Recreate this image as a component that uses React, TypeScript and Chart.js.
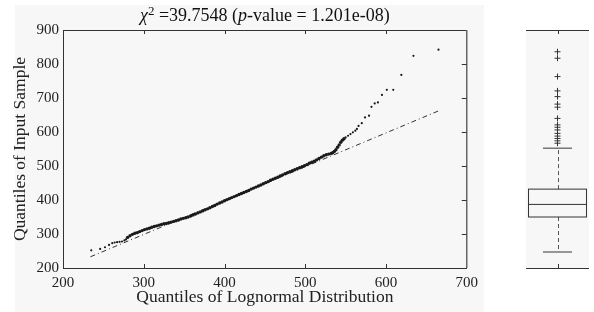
import React, { useEffect, useRef } from 'react';
import { Chart, registerables } from 'chart.js';

Chart.register(...registerables);

const FONT = '"Liberation Serif", "Times New Roman", serif';

const xTicks = [200, 300, 400, 500, 600, 700];
const yTicks = [200, 300, 400, 500, 600, 700, 800, 900];

// Dense central part of the Q-Q scatter (theoretical lognormal quantile, sample quantile)
const denseX = [280, 283, 286, 289, 292, 295, 298, 301, 304, 307, 310, 313, 316, 319, 322, 325, 328, 331, 334, 337, 340, 343, 346, 349, 352, 355, 358, 361, 364, 367, 370, 373, 376, 379, 382, 385, 388, 391, 394, 397, 400, 403, 406, 409, 412, 415, 418, 421, 424, 427, 430, 433, 436, 439, 442, 445, 448, 451, 454, 457, 460, 463, 466, 469, 472, 475, 478, 481, 484, 487, 490, 493, 496, 499, 502, 505, 508, 511, 514, 517, 520, 523, 526, 529, 532, 534, 536, 538, 540, 542, 544, 546, 548];
const denseY = [290, 295, 299, 302, 304, 307, 310, 313, 315, 317, 320, 322, 324, 326, 328, 330, 331, 333, 335, 337, 339, 341, 344, 346, 348, 350, 353, 356, 359, 362, 365, 368, 371, 374, 377, 381, 384, 388, 391, 394, 398, 401, 404, 407, 410, 413, 416, 419, 422, 425, 428, 432, 435, 438, 441, 444, 448, 451, 454, 458, 461, 464, 467, 471, 474, 477, 480, 483, 486, 489, 492, 495, 498, 501, 504, 508, 511, 514, 518, 522, 526, 530, 533, 535, 537, 539, 543, 548, 555, 562, 570, 576, 580];

// Sparse tails of the scatter
const tailX = [235, 246, 252, 257, 261, 264, 267, 270, 273, 276, 278, 550, 553, 556, 559, 562, 564, 566, 570, 574, 579, 582, 586, 590, 595, 601, 609, 619, 634, 665];
const tailY = [252, 256, 261, 268, 273, 275, 276, 277, 278, 281, 284, 584, 589, 594, 599, 604, 609, 618, 626, 643, 648, 674, 684, 687, 709, 724, 724, 768, 824, 842];

// Reference (fit) line end points
const refX = [234, 665];
const refY = [233, 662];

// Box plot of the input sample
const whiskerLow = 247;
const q1 = 350;
const median = 387;
const q3 = 432;
const whiskerHigh = 552;
const outliers = [567, 574, 581, 588, 596, 606, 614, 621, 640, 673, 682, 704, 721, 763, 817, 836];

const mainPlugin = {
  id: 'mainDeco',
  beforeDraw(chart: any) {
    const ctx = chart.ctx;
    ctx.save();
    ctx.fillStyle = '#f7f7f7';
    ctx.fillRect(15, 5, chart.width - 15, chart.height - 5);
    ctx.restore();
  },
  afterDraw(chart: any) {
    const ctx = chart.ctx;
    const { left, right, top, bottom } = chart.chartArea;
    const xs = chart.scales.x;
    const ys = chart.scales.y;
    ctx.save();
    // top frame
    ctx.strokeStyle = '#333';
    ctx.lineWidth = 1;
    ctx.beginPath();
    ctx.moveTo(left, top + 0.5);
    ctx.lineTo(right, top + 0.5);
    ctx.stroke();
    // right frame
    ctx.strokeStyle = '#666';
    ctx.lineWidth = 1.5;
    ctx.beginPath();
    ctx.moveTo(right, top);
    ctx.lineTo(right, bottom);
    ctx.stroke();
    // inward ticks
    ctx.strokeStyle = '#333';
    ctx.lineWidth = 1;
    xTicks.slice(1, -1).forEach((v) => {
      const px = Math.round(xs.getPixelForValue(v)) + 0.5;
      ctx.beginPath();
      ctx.moveTo(px, bottom);
      ctx.lineTo(px, bottom - 4);
      ctx.moveTo(px, top);
      ctx.lineTo(px, top + 4);
      ctx.stroke();
    });
    yTicks.slice(1, -1).forEach((v) => {
      const py = Math.round(ys.getPixelForValue(v)) + 0.5;
      ctx.beginPath();
      ctx.moveTo(right, py);
      ctx.lineTo(right - 5, py);
      ctx.stroke();
    });
    // title with rich text
    const size = 18;
    const parts = [
      { t: '\u03c7', f: `italic ${size}px ${FONT}`, dy: 0 },
      { t: '2', f: `${Math.round(size * 0.7)}px ${FONT}`, dy: -6 },
      { t: ' =39.7548 (', f: `${size}px ${FONT}`, dy: 0 },
      { t: 'p', f: `italic ${size}px ${FONT}`, dy: 0 },
      { t: '-value = 1.201e-08)', f: `${size}px ${FONT}`, dy: 0 },
    ];
    let total = 0;
    parts.forEach((p) => {
      ctx.font = p.f;
      total += ctx.measureText(p.t).width;
    });
    let x = (left + right) / 2 - total / 2;
    const baseY = 21;
    ctx.fillStyle = '#111';
    ctx.textBaseline = 'alphabetic';
    ctx.textAlign = 'left';
    parts.forEach((p) => {
      ctx.font = p.f;
      ctx.fillText(p.t, x, baseY + p.dy);
      x += ctx.measureText(p.t).width;
    });
    ctx.restore();
  },
};

const boxPlugin = {
  id: 'boxDeco',
  beforeDatasetsDraw(chart: any) {
    const ctx = chart.ctx;
    const { left, right, top, bottom } = chart.chartArea;
    const xs = chart.scales.x;
    const ys = chart.scales.y;
    ctx.save();
    ctx.fillStyle = '#f7f7f7';
    ctx.fillRect(left, top, right - left, bottom - top);
    const cx = Math.round(xs.getPixelForValue(0.5)) + 0.5;
    const bx0 = xs.getPixelForValue(0.04);
    const bx1 = xs.getPixelForValue(0.96);
    const cx0 = xs.getPixelForValue(0.27);
    const cx1 = xs.getPixelForValue(0.73);
    const yQ1 = ys.getPixelForValue(q1);
    const yQ3 = ys.getPixelForValue(q3);
    const yMed = ys.getPixelForValue(median);
    const yLo = ys.getPixelForValue(whiskerLow);
    const yHi = ys.getPixelForValue(whiskerHigh);
    // dashed whiskers
    ctx.strokeStyle = '#555';
    ctx.lineWidth = 1;
    ctx.setLineDash([4, 3]);
    ctx.beginPath();
    ctx.moveTo(cx, yQ3);
    ctx.lineTo(cx, yHi);
    ctx.moveTo(cx, yQ1);
    ctx.lineTo(cx, yLo);
    ctx.stroke();
    ctx.setLineDash([]);
    // caps
    ctx.strokeStyle = '#777';
    ctx.lineWidth = 1.5;
    ctx.beginPath();
    ctx.moveTo(cx0, yHi);
    ctx.lineTo(cx1, yHi);
    ctx.moveTo(cx0, yLo);
    ctx.lineTo(cx1, yLo);
    ctx.stroke();
    // box
    ctx.strokeStyle = '#333';
    ctx.lineWidth = 1;
    ctx.strokeRect(bx0, yQ3, bx1 - bx0, yQ1 - yQ3);
    ctx.beginPath();
    ctx.moveTo(bx0, yMed);
    ctx.lineTo(bx1, yMed);
    ctx.stroke();
    ctx.restore();
  },
  afterDraw(chart: any) {
    const ctx = chart.ctx;
    const { left, right, top, bottom } = chart.chartArea;
    const xs = chart.scales.x;
    const cx = Math.round(xs.getPixelForValue(0.5)) + 0.5;
    ctx.save();
    ctx.strokeStyle = '#333';
    ctx.lineWidth = 1;
    ctx.beginPath();
    ctx.moveTo(left, top + 0.5);
    ctx.lineTo(right, top + 0.5);
    ctx.moveTo(left, bottom + 0.5);
    ctx.lineTo(right, bottom + 0.5);
    ctx.moveTo(cx, top);
    ctx.lineTo(cx, top + 4);
    ctx.moveTo(cx, bottom);
    ctx.lineTo(cx, bottom - 4);
    ctx.stroke();
    ctx.restore();
  },
};

export default function App() {
  const mainRef = useRef<HTMLCanvasElement>(null);
  const boxRef = useRef<HTMLCanvasElement>(null);

  useEffect(() => {
    const tickFont = { family: FONT, size: 15 };
    const titleFont = { family: FONT, size: 17.5 };
    const main = new Chart(mainRef.current as HTMLCanvasElement, {
      type: 'scatter',
      data: {
        datasets: [
          {
            data: denseX.map((x, i) => ({ x, y: denseY[i] })),
            pointRadius: 1.7,
            pointBackgroundColor: '#1a1a1a',
            pointBorderWidth: 0,
          },
          {
            data: tailX.map((x, i) => ({ x, y: tailY[i] })),
            pointRadius: 1.1,
            pointBackgroundColor: '#1a1a1a',
            pointBorderWidth: 0,
          },
          {
            type: 'line',
            data: refX.map((x, i) => ({ x, y: refY[i] })),
            borderColor: '#333',
            borderWidth: 1,
            borderDash: [5, 3, 1, 3],
            pointRadius: 0,
            fill: false,
          } as any,
        ],
      },
      options: {
        animation: false,
        responsive: false,
        layout: { padding: { left: 0, right: 15, top: 30, bottom: 0 } },
        plugins: { legend: { display: false }, tooltip: { enabled: false } },
        scales: {
          x: {
            type: 'linear',
            min: 200,
            max: 700,
            afterBuildTicks: (s: any) => {
              s.ticks = xTicks.map((v) => ({ value: v }));
            },
            afterFit: (s: any) => {
              s.height = 44;
            },
            grid: { display: false, drawTicks: false },
            border: { display: true, color: '#333', width: 1 },
            ticks: { padding: 6, color: '#222', font: tickFont, maxRotation: 0, autoSkip: false },
            title: {
              display: true,
              text: 'Quantiles of Lognormal Distribution',
              color: '#222',
              font: titleFont,
              padding: { top: 0, bottom: 4 },
            },
          },
          y: {
            type: 'linear',
            min: 200,
            max: 900,
            afterBuildTicks: (s: any) => {
              s.ticks = yTicks.map((v) => ({ value: v }));
            },
            afterFit: (s: any) => {
              s.width = 63;
            },
            grid: { display: false, drawTicks: false },
            border: { display: true, color: '#333', width: 1 },
            ticks: { padding: 4, color: '#222', font: tickFont, autoSkip: false },
            title: {
              display: true,
              text: 'Quantiles of Input Sample',
              color: '#222',
              font: titleFont,
              padding: { top: 10, bottom: 0 },
            },
          },
        },
      },
      plugins: [mainPlugin],
    });

    const box = new Chart(boxRef.current as HTMLCanvasElement, {
      type: 'scatter',
      data: {
        datasets: [
          {
            data: outliers.map((v) => ({ x: 0.5, y: v })),
            pointStyle: 'cross',
            pointRadius: 3,
            pointBorderColor: '#333',
            pointBorderWidth: 1,
          },
        ],
      },
      options: {
        animation: false,
        responsive: false,
        layout: { padding: { left: 42, right: 2, top: 30, bottom: 44 } },
        plugins: { legend: { display: false }, tooltip: { enabled: false } },
        scales: {
          x: { type: 'linear', min: 0, max: 1, display: false },
          y: { type: 'linear', min: 200, max: 900, display: false },
        },
      },
      plugins: [boxPlugin],
    });

    return () => {
      main.destroy();
      box.destroy();
    };
  }, []);

  return (
    <div style={{ position: 'fixed', left: 0, top: 0, width: 594, height: 312, background: '#fff' }}>
      <canvas ref={mainRef} width={484} height={312} style={{ position: 'absolute', left: 0, top: 0, width: 484, height: 312 }} />
      <canvas ref={boxRef} width={110} height={312} style={{ position: 'absolute', left: 484, top: 0, width: 110, height: 312 }} />
    </div>
  );
}
